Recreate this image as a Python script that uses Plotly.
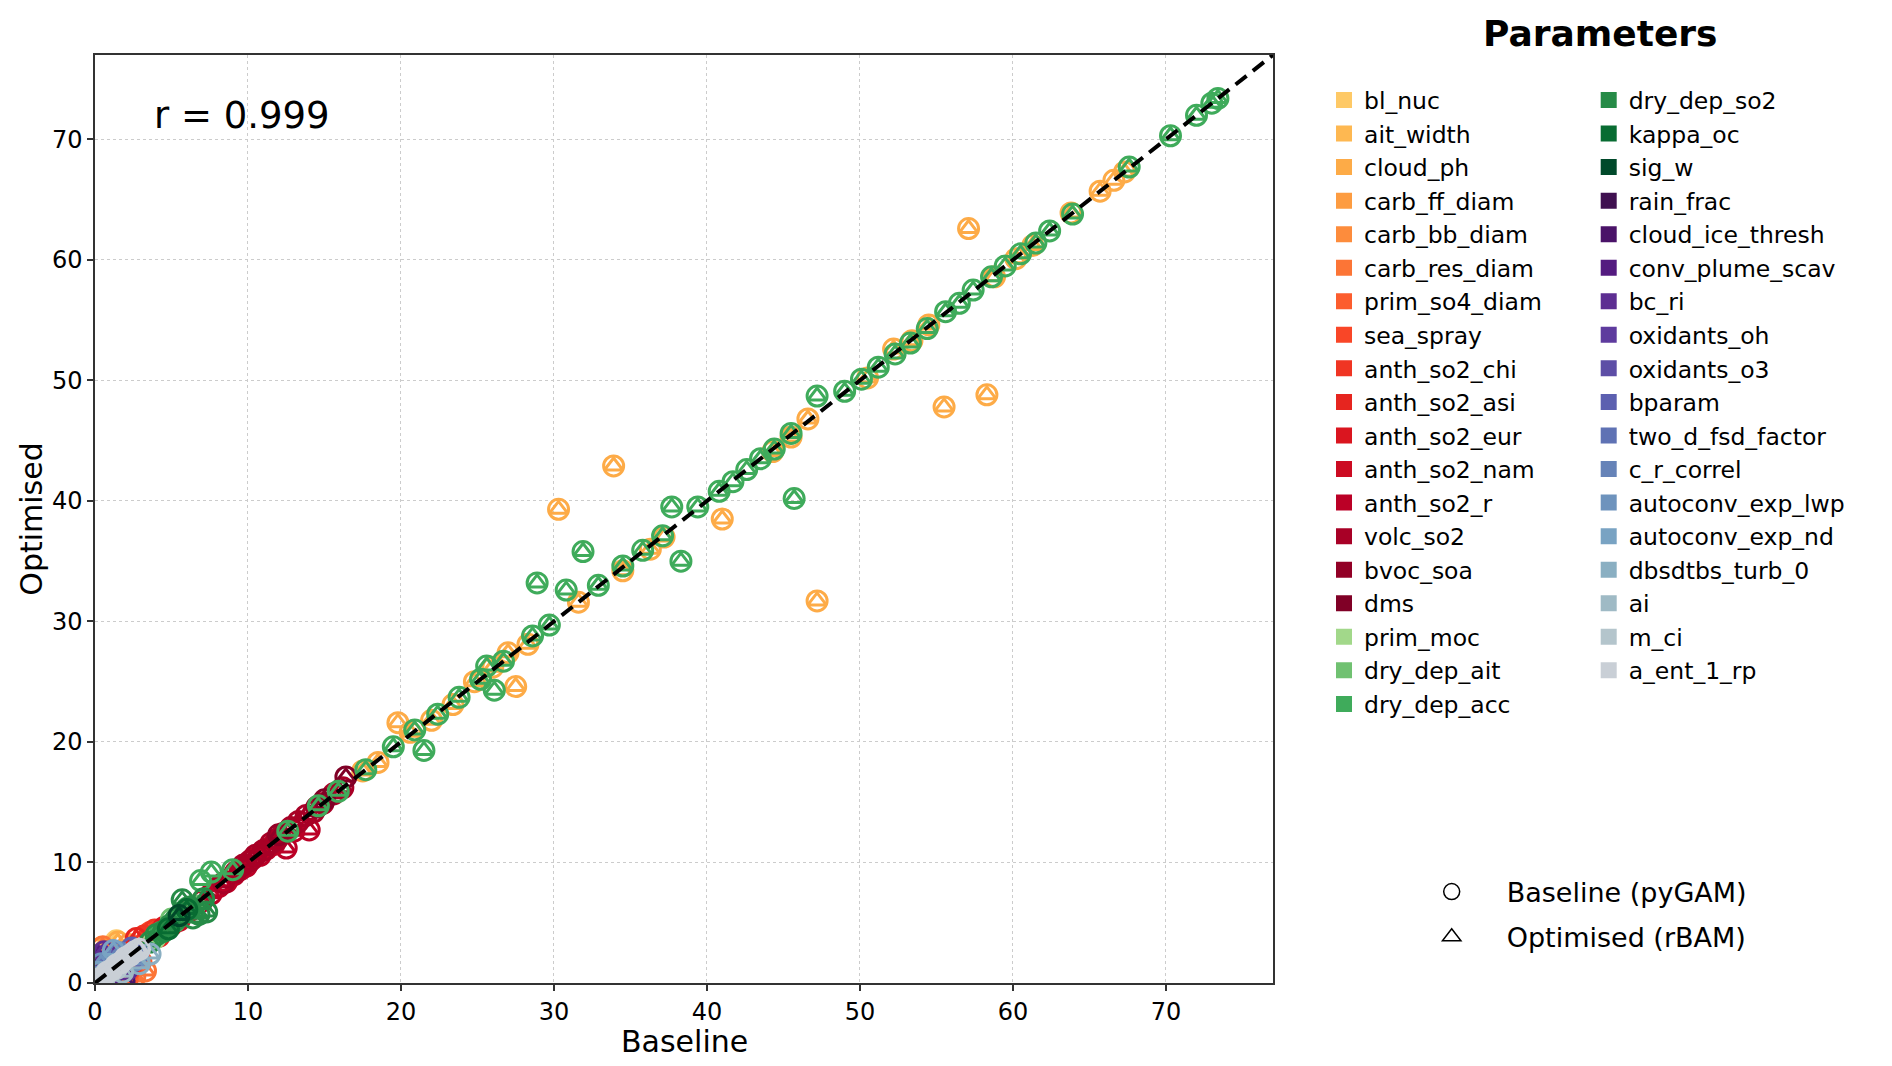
import plotly.graph_objects as go

# parameter names and colours, in legend order
param_names = [
    "bl_nuc", "ait_width", "cloud_ph", "carb_ff_diam", "carb_bb_diam", "carb_res_diam",
    "prim_so4_diam", "sea_spray", "anth_so2_chi", "anth_so2_asi", "anth_so2_eur",
    "anth_so2_nam", "anth_so2_r", "volc_so2", "bvoc_soa", "dms", "prim_moc",
    "dry_dep_ait", "dry_dep_acc", "dry_dep_so2", "kappa_oc", "sig_w", "rain_frac",
    "cloud_ice_thresh", "conv_plume_scav", "bc_ri", "oxidants_oh", "oxidants_o3",
    "bparam", "two_d_fsd_factor", "c_r_correl", "autoconv_exp_lwp", "autoconv_exp_nd",
    "dbsdtbs_turb_0", "ai", "m_ci", "a_ent_1_rp",
]
param_colors = [
    "#fec966", "#feb851", "#fdab47", "#fd9c41", "#fd8c3c", "#fc7536",
    "#fc5d2e", "#f94627", "#f03523", "#e6251f", "#da151f",
    "#cc0b22", "#bb0026", "#a80026", "#920026", "#800026", "#a2d88a",
    "#70c171", "#3fab5b", "#268b47", "#086c32", "#00492a", "#3f1050",
    "#4a1368", "#541b80", "#5d2e92", "#5e3b9e", "#5d4ea6",
    "#5c60b0", "#5f72b4", "#6683b8", "#6e93bd", "#79a3c3",
    "#8aafc2", "#9fbac5", "#b4c5cc", "#c9cfd6",
]

# baseline (x) and optimised (y) values per parameter
bl_nuc_base, bl_nuc_opt = [1.4, 0.6], [3.5, 2.0]
ait_width_base, ait_width_opt = [2.0, 1.0], [2.6, 1.2]
cloud_ph_base = [0.3, 1.5, 17.5, 18.5, 19.8, 20.6, 22.0, 23.4, 24.8, 26.0, 27.0, 27.5, 28.3,
                 30.3, 31.6, 33.9, 34.5, 36.3, 37.2, 41.0, 44.3, 45.5, 46.6, 47.2, 50.5,
                 52.2, 53.4, 54.5, 55.5, 57.1, 58.3, 58.8, 60.2, 61.3, 63.8, 65.7, 66.6, 67.3]
cloud_ph_opt = [2.8, 3.4, 17.6, 18.3, 21.6, 20.8, 21.8, 23.1, 25.0, 26.2, 27.4, 24.6, 28.1,
                39.3, 31.6, 42.9, 34.2, 36.0, 37.0, 38.5, 44.1, 45.3, 46.8, 31.7, 50.2,
                52.6, 53.3, 54.6, 47.8, 62.6, 48.8, 58.6, 60.1, 61.2, 63.9, 65.7, 66.6, 67.3]
carb_ff_diam_base, carb_ff_diam_opt = [0.4, 2.2], [2.9, 3.2]
carb_bb_diam_base, carb_bb_diam_opt = [1.3], [0.5]
carb_res_diam_base, carb_res_diam_opt = [3.3, 2.6, 0.5], [1.0, 0.5, 3.0]
prim_so4_diam_base, prim_so4_diam_opt = [3.0, 2.1], [1.8, 0.3]
sea_spray_base, sea_spray_opt = [2.3, 3.6], [1.2, 4.2]
anth_so2_chi_base, anth_so2_chi_opt = [3.2, 3.9], [3.9, 4.4]
anth_so2_asi_base, anth_so2_asi_opt = [2.7, 4.2], [3.7, 3.9]
anth_so2_eur_base, anth_so2_eur_opt = [4.5, 5.0], [4.6, 4.8]
anth_so2_nam_base, anth_so2_nam_opt = [5.5, 6.2], [5.2, 6.0]
anth_so2_r_base = [7.0, 7.6, 8.1, 8.6, 9.1, 9.5, 9.9, 10.3, 10.8, 11.2, 11.7, 12.5, 13.0, 14.0]
anth_so2_r_opt = [6.8, 7.4, 8.0, 8.4, 9.0, 9.4, 9.7, 10.3, 10.6, 11.1, 11.5, 11.2, 12.6, 12.7]
volc_so2_base = [8.4, 9.2, 9.7, 10.1, 10.5, 11.0, 11.5, 11.9, 12.3, 12.8, 13.3, 13.8, 14.3,
                 14.9, 15.6, 16.2]
volc_so2_opt = [8.3, 9.2, 9.8, 10.1, 10.6, 11.0, 11.6, 11.9, 12.4, 12.9, 13.4, 13.9, 14.2,
                14.9, 15.7, 16.2]
bvoc_soa_base, bvoc_soa_opt = [12.0, 14.5], [12.3, 14.6]
dms_base, dms_opt = [16.4, 15.0], [17.1, 15.2]
prim_moc_base, prim_moc_opt = [3.9], [3.7]
dry_dep_ait_base, dry_dep_ait_opt = [5.0, 6.5], [5.3, 6.4]
dry_dep_acc_base = [4.3, 5.2, 6.0, 6.9, 7.6, 9.0, 12.6, 14.6, 15.9, 17.7, 19.5, 20.9, 21.5,
                    22.4, 23.8, 25.2, 25.6, 26.1, 26.7, 28.6, 28.9, 29.7, 30.8, 31.9, 32.9,
                    34.5, 35.8, 37.1, 37.7, 38.3, 39.4, 40.8, 41.7, 42.6, 43.5, 44.4, 45.5,
                    45.7, 47.2, 49.0, 50.1, 51.2, 52.3, 53.3, 54.4, 55.6, 56.5, 57.4, 58.6,
                    59.5, 60.5, 61.5, 62.4, 63.9, 67.6, 70.3, 72.0, 73.0, 73.4]
dry_dep_acc_opt = [4.2, 5.1, 6.2, 8.5, 9.2, 9.4, 12.6, 14.7, 15.9, 17.7, 19.6, 21.0, 19.3,
                   22.3, 23.7, 25.2, 26.3, 24.3, 26.7, 28.8, 33.2, 29.7, 32.6, 35.8, 33.0,
                   34.6, 35.9, 37.1, 39.5, 35.0, 39.5, 40.8, 41.6, 42.6, 43.5, 44.3, 45.6,
                   40.2, 48.7, 49.1, 50.1, 51.1, 52.2, 53.1, 54.3, 55.7, 56.4, 57.5, 58.6,
                   59.5, 60.5, 61.4, 62.4, 63.8, 67.7, 70.3, 72.0, 73.0, 73.4]
dry_dep_so2_base = [3.6, 4.0, 4.5, 4.9, 5.3, 5.7, 6.2, 6.4, 6.8, 7.1, 7.3]
dry_dep_so2_opt = [3.4, 4.0, 4.3, 4.8, 5.3, 6.9, 6.3, 5.4, 5.7, 7.0, 5.9]
kappa_oc_base, kappa_oc_opt = [4.8, 6.0], [4.5, 6.1]
sig_w_base, sig_w_opt = [5.5], [5.6]
rain_frac_base, rain_frac_opt = [0.3], [1.0]
cloud_ice_thresh_base, cloud_ice_thresh_opt = [0.8, 1.9], [0.4, 0.2]
conv_plume_scav_base, conv_plume_scav_opt = [0.2, 1.2], [2.2, 0.8]
bc_ri_base, bc_ri_opt = [0.6, 2.1, 1.7], [2.6, 1.1, 1.6]
oxidants_oh_base, oxidants_oh_opt = [2.4], [2.0]
oxidants_o3_base, oxidants_o3_opt = [1.1], [1.8]
bparam_base, bparam_opt = [2.4, 2.8], [2.9, 2.4]
two_d_fsd_factor_base, two_d_fsd_factor_opt = [0.9], [1.4]
c_r_correl_base, c_r_correl_opt = [1.6], [2.5]
autoconv_exp_lwp_base, autoconv_exp_lwp_opt = [0.4, 2.6], [1.6, 1.9]
autoconv_exp_nd_base, autoconv_exp_nd_opt = [1.2, 0.3], [2.7, 0.9]
dbsdtbs_turb_0_base, dbsdtbs_turb_0_opt = [3.6, 2.9], [2.4, 1.6]
ai_base, ai_opt = [1.8], [0.9]
m_ci_base, m_ci_opt = [0.7, 1.4], [0.6, 1.2]
a_ent_1_rp_base = [0.2, 0.5, 0.8, 1.1, 1.4, 1.7, 2.0, 2.3, 2.6, 2.9]
a_ent_1_rp_opt = [0.3, 0.5, 0.9, 1.1, 1.5, 1.7, 2.1, 2.3, 2.6, 2.8]

r_value = 0.999
axis_max = 77

series = {name: (globals()[name + "_base"], globals()[name + "_opt"]) for name in param_names}

FONT = "DejaVu Sans"
fig = go.Figure()

for name, color in zip(param_names, param_colors):
    xs, ys = series[name]
    fig.add_trace(go.Scatter(x=xs, y=ys, mode="markers", showlegend=False, hoverinfo="skip",
                             marker=dict(symbol="circle-open", size=20, color=color,
                                         line=dict(width=3, color=color))))
    fig.add_trace(go.Scatter(x=xs, y=ys, mode="markers", showlegend=False, hoverinfo="skip",
                             marker=dict(symbol="triangle-up-open", size=16, color=color,
                                         line=dict(width=3, color=color))))

# 1:1 line
fig.add_trace(go.Scatter(x=[0, axis_max], y=[0, axis_max], mode="lines", showlegend=False,
                         line=dict(color="black", width=4, dash="14px,8px")))

# parameter legend entries, split into two columns
for i, (name, color) in enumerate(zip(param_names, param_colors)):
    fig.add_trace(go.Scatter(x=[None], y=[None], mode="markers", name=name,
                             legend="legend" if i < 19 else "legend2",
                             marker=dict(symbol="square", size=16, color=color)))

# marker shape legend
fig.add_trace(go.Scatter(x=[None], y=[None], mode="markers", name="Baseline (pyGAM)",
                         legend="legend3", legendgroup="a",
                         marker=dict(symbol="circle-open", size=20, color="black",
                                     line=dict(width=1.5, color="black"))))
fig.add_trace(go.Scatter(x=[None], y=[None], mode="markers", name="Optimised (rBAM)",
                         legend="legend3", legendgroup="b",
                         marker=dict(symbol="triangle-up-open", size=18, color="black",
                                     line=dict(width=1.5, color="black"))))

fig.add_annotation(x=3.7, y=72.0, xref="x", yref="y", text=f"r = {r_value}", showarrow=False,
                   xanchor="left", yanchor="middle", font=dict(size=37, color="black", family=FONT))
fig.add_annotation(x=1.2776, y=1.0237, xref="paper", yref="paper", text="<b>Parameters</b>",
                   showarrow=False, xanchor="center", yanchor="middle",
                   font=dict(size=36, color="black", family=FONT))
fig.add_annotation(x=0.5, y=-0.0632, xref="paper", yref="paper", text="Baseline", showarrow=False,
                   xanchor="center", yanchor="middle", font=dict(size=30, color="black", family=FONT))

axis_style = dict(range=[0, axis_max], dtick=10, showline=True, linecolor="#333333", linewidth=1.5,
                  mirror=True, ticks="outside", ticklen=6, tickwidth=1.5, tickcolor="#333333",
                  showgrid=True, gridcolor="#cccccc", griddash="dot", gridwidth=1, zeroline=False,
                  tickfont=dict(size=24, color="black", family=FONT))

legend_style = dict(font=dict(size=23.5, color="black", family=FONT), bgcolor="rgba(0,0,0,0)",
                    xanchor="left", yanchor="top", tracegroupgap=0)

# page body adds an 8px offset, so the figure is 16px smaller and margins shifted
fig.update_layout(
    width=1876, height=1050,
    margin=dict(l=87, r=611, t=47, b=75, autoexpand=False),
    plot_bgcolor="white", paper_bgcolor="white",
    font=dict(family=FONT, color="black"),
    xaxis=axis_style,
    yaxis=dict(axis_style, title=dict(text="Optimised", font=dict(size=30, family=FONT), standoff=0)),
    legend=dict(legend_style, x=1.0433, y=0.975),
    legend2=dict(legend_style, x=1.268, y=0.975),
    legend3=dict(legend_style, x=1.105, y=0.1244, font=dict(size=27, color="black", family=FONT),
                 tracegroupgap=7, itemwidth=100),
)

fig.write_html("out.html")
